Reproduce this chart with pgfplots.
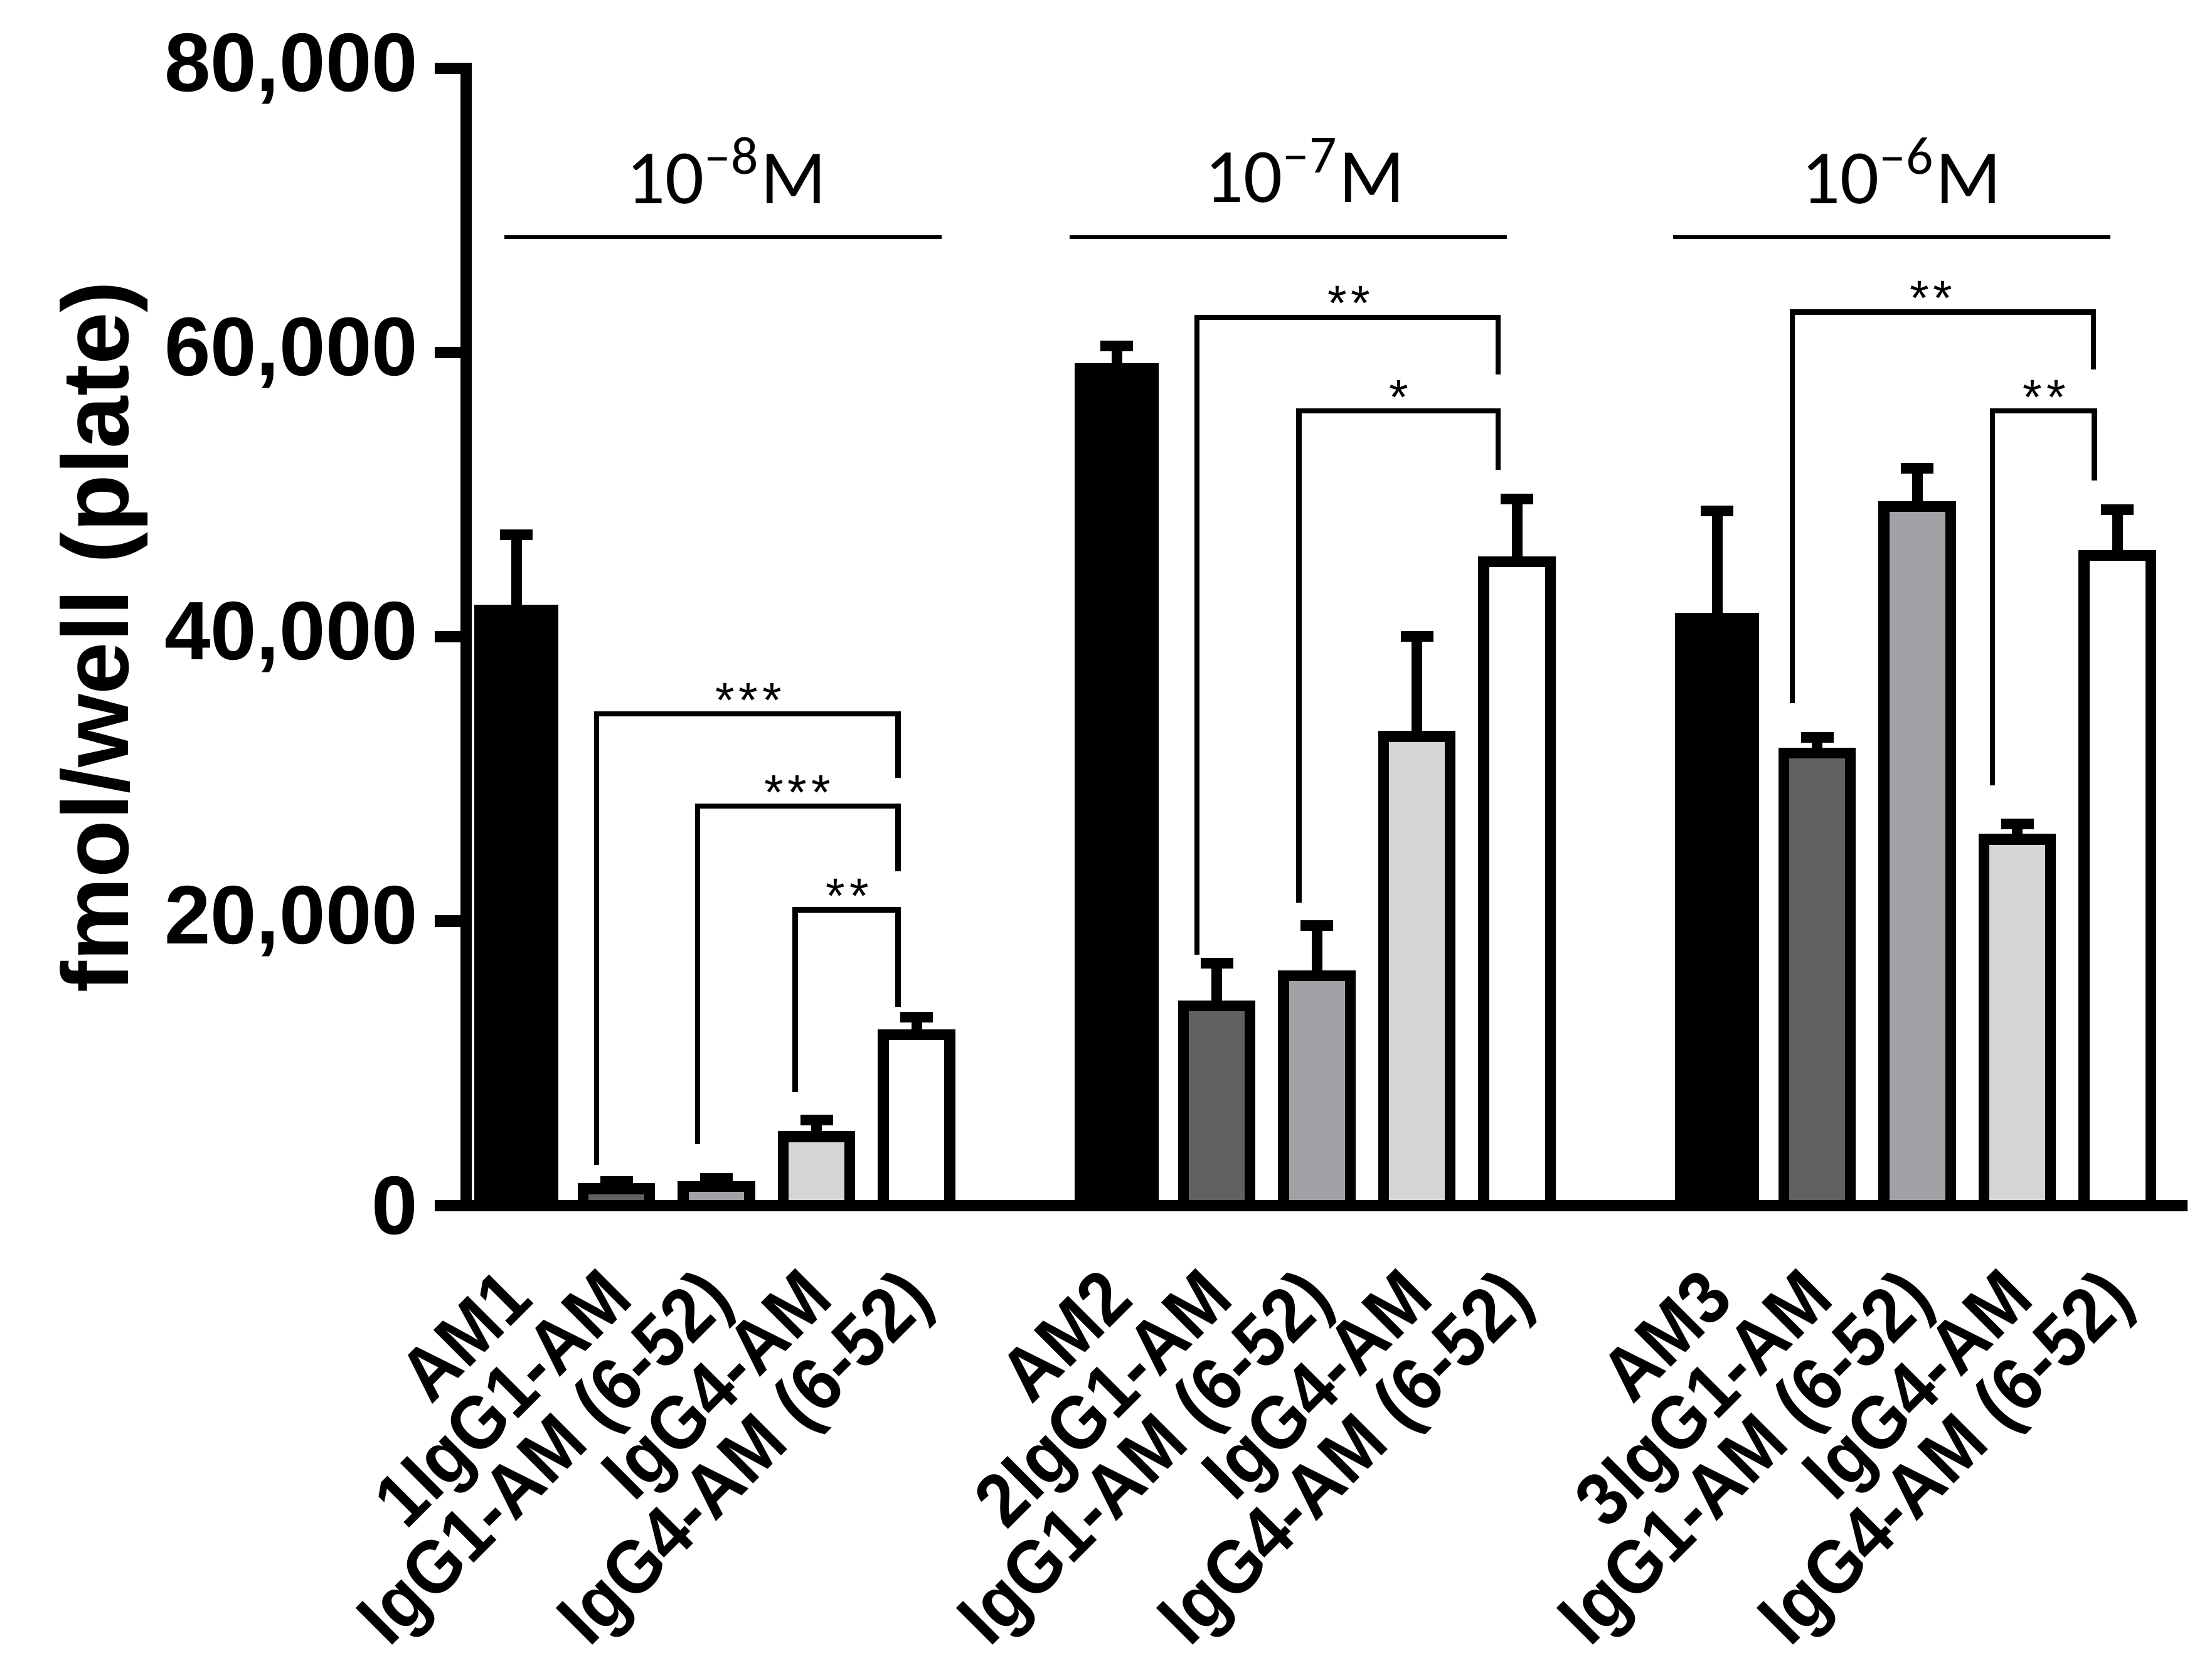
\documentclass[border=0pt]{standalone}
\usepackage{fontspec}
\setmainfont{Liberation Sans}
\newfontfamily\calibri{Carlito}
\newfontfamily\lblfont{Liberation Sans}[FakeStretch=0.92]
\usepackage{pgfplots}
\pgfplotsset{compat=1.18}
\definecolor{dgray}{HTML}{616161}
\definecolor{mgray}{HTML}{A1A1A6}
\definecolor{lgray}{HTML}{D5D5D5}
\pgfplotsset{
  outlined/.style={ybar, bar width=0.665, bar shift=0pt, draw=black, line width=2.3bp,
    error bars/y dir=plus, error bars/y explicit,
    error bars/error bar style={line width=2.25bp, black},
    error bars/error mark options={rotate=90, mark size=3.45bp, line width=2.25bp, black}},
}
\newcommand{\st}[1]{\ifcase#1\or *\or *\kern0.9bp*\or *\kern0.9bp*\kern0.9bp*\fi}
\begin{document}
\begin{tikzpicture}
\begin{axis}[name=ax,
  scale only axis, width=364.1bp, height=240.5bp,
  xmin=-0.502, xmax=16.70, ymin=0, ymax=80000,
  axis x line=bottom, axis y line=left,
  axis line style={line width=2.4bp, -},
  y axis line style={line cap=rect},
  ytick={0,20000,40000,60000,80000},
  scaled y ticks=false,
  /pgf/number format/1000 sep={,},
  /pgf/number format/assume math mode=true,
  yticklabel style={font=\bfseries\fontsize{17.6}{17.6}\selectfont, inner sep=0pt, xshift=-3.3bp},
  tick align=outside, major tick length=6.7bp,
  ytick style={line width=2.4bp, black},
  xtick={0,1,2,3,4,6,7,8,9,10,12,13,14,15,16},
  xticklabels={AM1, 1IgG1-AM, IgG1-AM (6-52), IgG4-AM, IgG4-AM (6-52),
               AM2, 2IgG1-AM, IgG1-AM (6-52), IgG4-AM, IgG4-AM (6-52),
               AM3, 3IgG1-AM, IgG1-AM (6-52), IgG4-AM, IgG4-AM (6-52)},
  x tick style={draw=none},
  xticklabel style={xshift=4.1bp, yshift=-13.6bp, rotate=45, anchor=base east, inner sep=0pt,
    font=\lblfont\bfseries\fontsize{16}{16}\selectfont},
  ylabel={fmol/well (plate)},
  ylabel style={font=\bfseries\fontsize{20}{20}\selectfont},
  clip=false,
]
\addplot[fill=black, ybar, bar width=0.83, bar shift=0pt, draw=black, line width=0.3bp,
  error bars/.cd, y dir=plus, y explicit,
  error bar style={line width=2.25bp, black},
  error mark options={rotate=90, mark size=3.45bp, line width=2.25bp, black}]
  coordinates {(0,42200) +- (0,4970) (6,59200) +- (0,1260) (12,41640) +- (0,7240)};
\addplot[fill=dgray, outlined]
  coordinates {(1,1170) +- (0,510) (7,14050) +- (0,3000) (13,31830) +- (0,1100)};
\addplot[fill=mgray, outlined]
  coordinates {(2,1320) +- (0,580) (8,16170) +- (0,3510) (14,49180) +- (0,2700)};
\addplot[fill=lgray, outlined]
  coordinates {(3,4830) +- (0,1170) (9,33000) +- (0,7030) (15,25760) +- (0,1100)};
\addplot[fill=white, outlined]
  coordinates {(4,12000) +- (0,1240) (10,45300) +- (0,4390) (16,45740) +- (0,3220)};
% group labels
\draw[line width=0.75bp] (axis cs:-0.12,68140) -- (axis cs:4.25,68140);
\draw[line width=0.75bp] (axis cs:5.53,68140) -- (axis cs:9.90,68140);
\draw[line width=0.75bp] (axis cs:11.56,68140) -- (axis cs:15.93,68140);
\begin{scope}[every node/.style={font=\calibri\fontsize{16.3}{16.3}\selectfont, inner sep=0pt}]
\node at (axis cs:2.10,72800) {10\textsuperscript{–8}M};
\node at (axis cs:7.88,72800) {10\textsuperscript{–7}M};
\node at (axis cs:13.84,72800) {10\textsuperscript{–6}M};
\end{scope}
% brackets
\begin{scope}[line width=1.1bp]
\draw (axis cs:0.80,2850) |- (axis cs:3.815,34600) -- (axis cs:3.815,30070);
\draw (axis cs:1.81,4320) |- (axis cs:3.815,28100) -- (axis cs:3.815,23490);
\draw (axis cs:2.786,7970) |- (axis cs:3.815,20790) -- (axis cs:3.815,13980);
\draw (axis cs:6.80,17630) |- (axis cs:9.81,62500) -- (axis cs:9.81,58470);
\draw (axis cs:7.82,21290) |- (axis cs:9.81,55910) -- (axis cs:9.81,51740);
\draw (axis cs:12.75,35350) |- (axis cs:15.76,62860) -- (axis cs:15.76,58840);
\draw (axis cs:14.75,29570) |- (axis cs:15.77,55910) -- (axis cs:15.77,51020);
\end{scope}
\begin{scope}[every node/.style={font=\fontsize{10.5}{10.5}\selectfont, anchor=base, yshift=-0.7bp, inner sep=0pt}]
\node at (axis cs:2.32,34600) {\st{3}};
\node at (axis cs:2.81,28100) {\st{3}};
\node at (axis cs:3.31,20790) {\st{2}};
\node at (axis cs:8.32,62500) {\st{2}};
\node at (axis cs:8.82,55910) {\st{1}};
\node at (axis cs:14.14,62860) {\st{2}};
\node at (axis cs:15.27,55910) {\st{2}};
\end{scope}
\end{axis}
\pgfresetboundingbox
\useasboundingbox ([xshift=-98.6bp,yshift=-99.9bp]ax.south west) rectangle ([xshift=5.2bp,yshift=14.5bp]ax.north east);
\end{tikzpicture}
\end{document}
